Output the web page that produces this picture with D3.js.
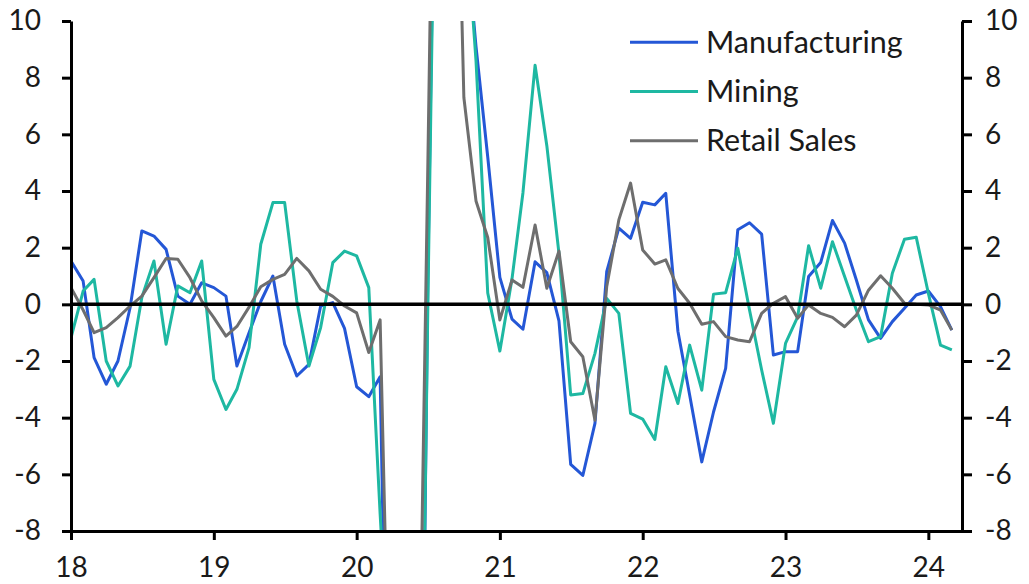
<!DOCTYPE html>
<html><head><meta charset="utf-8">
<script src="https://cdn.jsdelivr.net/npm/d3@7"></script>
<style>
body{margin:0;background:#fff}
svg{display:block}
text{font-family:Lato,"Open Sans",sans-serif;fill:#1a1a1a}
</style>
</head><body>
<svg id="chart" width="1029" height="584"></svg>
<script>
// Monthly observations, Jan 2018 .. Mar 2024
const months = d3.timeMonth.range(new Date(2018,0,1), new Date(2024,3,1));
const xTickYears = [2018,2019,2020,2021,2022,2023,2024];
const xTickLabels = ["18","19","20","21","22","23","24"];
const yTicks = [-8,-6,-4,-2,0,2,4,6,8,10];
const seriesNames = ["Manufacturing","Mining","Retail Sales"];

const manufacturing = [
  1.53,0.82,-1.88,-2.82,-2.0,-0.12,2.59,2.41,1.94,0.29,0.0,0.76,
  0.59,0.29,-2.18,-1.0,0.1,1.0,-1.41,-2.53,-2.12,-0.06,0.06,-0.85,
  -2.91,-3.26,-2.56,-25,-40,-35,1,29,20,13.9,9.1,5.2,
  0.95,-0.52,-0.88,1.5,1.12,-0.58,-5.65,-6.04,-4.2,1.15,2.69,2.33,
  3.6,3.51,3.92,-0.95,-3.2,-5.56,-3.8,-2.26,2.63,2.88,2.48,-1.79,
  -1.67,-1.67,0.98,1.48,2.96,2.16,0.86,-0.55,-1.2,-0.61,-0.14,0.33,
  0.47,-0.08,-0.91
];
const mining = [
  -1.18,0.47,0.88,-2.0,-2.88,-2.18,0.24,1.53,-1.41,0.65,0.41,1.53,
  -2.65,-3.71,-3.0,-1.53,2.12,3.59,3.59,0.12,-2.18,-0.82,1.47,1.88,
  1.71,0.59,-7.4,-15,-30,-30,0,28,22,14.6,8.6,0.4,
  -1.65,0.9,3.94,8.44,5.6,1.8,-3.2,-3.15,-1.73,0.21,-0.32,-3.85,
  -4.05,-4.77,-2.2,-3.5,-1.44,-3.03,0.36,0.41,1.98,-0.2,-2.32,-4.2,
  -1.38,-0.44,2.07,0.57,2.21,0.98,-0.2,-1.32,-1.14,1.1,2.3,2.37,
  0.39,-1.44,-1.61
];
const retailSales = [
  0.59,-0.2,-1.0,-0.82,-0.47,-0.06,0.29,0.94,1.62,1.59,0.94,0.12,
  -0.47,-1.12,-0.78,-0.1,0.62,0.88,1.06,1.62,1.18,0.53,0.28,-0.06,
  -0.3,-1.7,-0.55,-19,-25,-21,5,33,24,7.3,3.65,2.36,
  -0.55,0.86,0.6,2.8,0.57,1.88,-1.32,-1.85,-4.09,0.62,2.98,4.28,
  1.92,1.42,1.57,0.56,0.04,-0.7,-0.61,-1.14,-1.26,-1.32,-0.32,0.04,
  0.27,-0.49,-0.02,-0.32,-0.46,-0.79,-0.38,0.5,1.01,0.57,0.04,0.0,
  -0.02,-0.2,-0.91
];
const seriesValues = [manufacturing, mining, retailSales];
const colors = ["#2457d6","#1eb8a2","#6e6e6e"];

const svg = d3.select("#chart");
const L = 71, R = 962, T = 21, B = 531;
const x = d3.scaleTime().domain([new Date(2018,0,1), new Date(2024,2,27)]).range([L,R]);
const y = d3.scaleLinear().domain([-8,10]).range([B,T]);

svg.append("defs").append("clipPath").attr("id","clip")
  .append("rect").attr("x",L).attr("y",T).attr("width",R-L).attr("height",B-T);

const line = d3.line().x((d,i)=>x(months[i])).y(d=>y(d));
const gLines = svg.append("g").attr("clip-path","url(#clip)");
seriesValues.forEach((vals,k)=>{
  gLines.append("path").datum(vals).attr("d",line)
    .attr("fill","none").attr("stroke",colors[k]).attr("stroke-width",3)
    .attr("stroke-linejoin","round");
});

// zero line
svg.append("line").attr("x1",L).attr("x2",R).attr("y1",y(0)).attr("y2",y(0))
  .attr("stroke","#000").attr("stroke-width",3.5);

const fmt = d => String(d);
const styleAxis = g => {
  g.select(".domain").attr("stroke","#000").attr("stroke-width",3);
  g.selectAll(".tick line").attr("stroke","#000").attr("stroke-width",3);
  g.selectAll(".tick text").attr("font-size",28).attr("fill","#1a1a1a")
    .attr("font-family","Lato, 'Open Sans', sans-serif");
};
svg.append("g").attr("transform",`translate(${L},0)`)
  .call(d3.axisLeft(y).tickValues(yTicks).tickFormat(fmt).tickSize(9).tickSizeOuter(0).tickPadding(21))
  .call(styleAxis);
svg.append("g").attr("transform",`translate(${R},0)`)
  .call(d3.axisRight(y).tickValues(yTicks).tickFormat(fmt).tickSize(10).tickSizeOuter(0).tickPadding(13))
  .call(styleAxis);
svg.append("g").attr("transform",`translate(0,${B})`)
  .call(d3.axisBottom(x).tickValues(xTickYears.map(yr=>new Date(yr,0,1)))
    .tickFormat((d,i)=>xTickLabels[i]).tickSize(9).tickSizeOuter(0).tickPadding(17))
  .call(styleAxis);

// legend
const lg = svg.append("g");
seriesNames.forEach((name,k)=>{
  const ly = 42.3 + k*49.2;
  lg.append("line").attr("x1",630).attr("x2",698).attr("y1",ly).attr("y2",ly)
    .attr("stroke",colors[k]).attr("stroke-width",3);
  lg.append("text").attr("x",706).attr("y",ly+10.5).attr("font-size",30.5).text(name);
});
</script>
</body></html>
